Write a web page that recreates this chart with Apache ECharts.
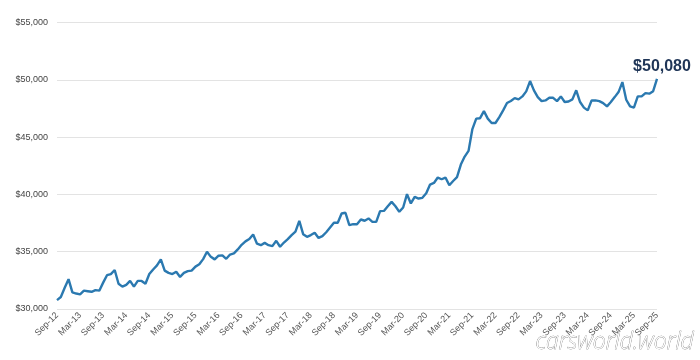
<!DOCTYPE html>
<html>
<head>
<meta charset="utf-8">
<script src="https://cdn.jsdelivr.net/npm/echarts@6/dist/echarts.min.js"></script>
<style>html,body{margin:0;padding:0;background:#fff;}#c{width:700px;height:360px;}</style>
</head>
<body>
<div id="c"></div>
<script>
// Monthly average price, Sep-12 .. Sep-25
const startYear = 2012, startMonth = 8; // September (0-based)
const monthNames = ['Jan','Feb','Mar','Apr','May','Jun','Jul','Aug','Sep','Oct','Nov','Dec'];
const prices = [
  30780,31050,31850,32600,31450,31350,31280,31600,31550,31500,31650,31600,
  32300,32950,33050,33400,32200,31950,32100,32450,31950,32450,32450,32200,
  33050,33450,33800,34330,33350,33150,33050,33250,32800,33150,33300,33350,
  33700,33900,34350,34990,34550,34330,34650,34680,34380,34750,34850,35200,
  35600,35900,36100,36500,35700,35570,35770,35570,35490,35950,35430,35800,
  36100,36450,36750,37690,36530,36300,36450,36650,36200,36360,36700,37110,
  37520,37520,38330,38400,37320,37400,37400,37810,37700,37900,37600,37600,
  38540,38560,38970,39350,38970,38480,38860,40020,39210,39780,39640,39700,
  40100,40860,41000,41470,41320,41470,40800,41170,41500,42600,43300,43800,
  45700,46610,46650,47270,46610,46230,46230,46750,47330,47970,48150,48400,
  48290,48550,48990,49890,49080,48490,48140,48200,48430,48430,48140,48550,
  48060,48110,48290,49080,48060,47570,47330,48200,48200,48140,47970,47680,
  48060,48490,48930,49800,48260,47680,47570,48550,48550,48840,48790,49010,
  50080
];
const yTicks = [30000, 35000, 40000, 45000, 50000, 55000];
const callout = '$50,080';

const categories = prices.map((_, i) => {
  const m = (startMonth + i) % 12;
  const y = startYear + Math.floor((startMonth + i) / 12);
  return monthNames[m] + '-' + String(y % 100).padStart(2, '0');
});
const lastIdx = prices.length - 1;

const chart = echarts.init(document.getElementById('c'), null, { renderer: 'canvas' });
chart.setOption({
  animation: false,
  backgroundColor: '#ffffff',
  grid: { left: 57, right: 43, top: 22.5, bottom: 51 },
  xAxis: {
    type: 'category',
    data: categories,
    boundaryGap: false,
    axisLine: { show: false },
    axisTick: { show: false },
    axisLabel: {
      interval: 5,
      rotate: 45,
      fontSize: 9,
      color: '#555',
      fontFamily: 'Liberation Sans, Arial, sans-serif',
      margin: 5
    },
    splitLine: { show: false }
  },
  yAxis: {
    type: 'value',
    min: yTicks[0],
    max: yTicks[yTicks.length - 1],
    interval: 5000,
    axisLine: { show: false },
    axisTick: { show: false },
    axisLabel: {
      fontSize: 9,
      color: '#444',
      fontFamily: 'Liberation Sans, Arial, sans-serif',
      margin: 9,
      formatter: v => '$' + v.toLocaleString('en-US')
    },
    splitLine: { lineStyle: { color: '#e3e3e3', width: 1.2 } }
  },
  series: [{
    type: 'line',
    data: prices,
    showSymbol: false,
    symbol: 'none',
    lineStyle: { color: '#2b79b0', width: 2.4 },
    markPoint: {
      symbol: 'circle',
      symbolSize: 0,
      silent: true,
      data: [{ coord: [lastIdx, prices[lastIdx]] }],
      label: {
        show: true,
        formatter: callout,
        position: 'top',
        distance: 5,
        offset: [5, 1],
        fontSize: 16,
        fontWeight: 'bold',
        color: '#1f3557',
        fontFamily: 'Liberation Sans, Arial, sans-serif'
      }
    }
  }],
  graphic: [{
    type: 'text',
    right: 6,
    bottom: 6,
    style: {
      text: 'carsworld.world',
      font: 'italic 300 23px "Open Sans", "Noto Sans", sans-serif',
      fill: '#ffffff',
      stroke: '#555',
      lineWidth: 0.5
    }
  }]
});
</script>
</body>
</html>
